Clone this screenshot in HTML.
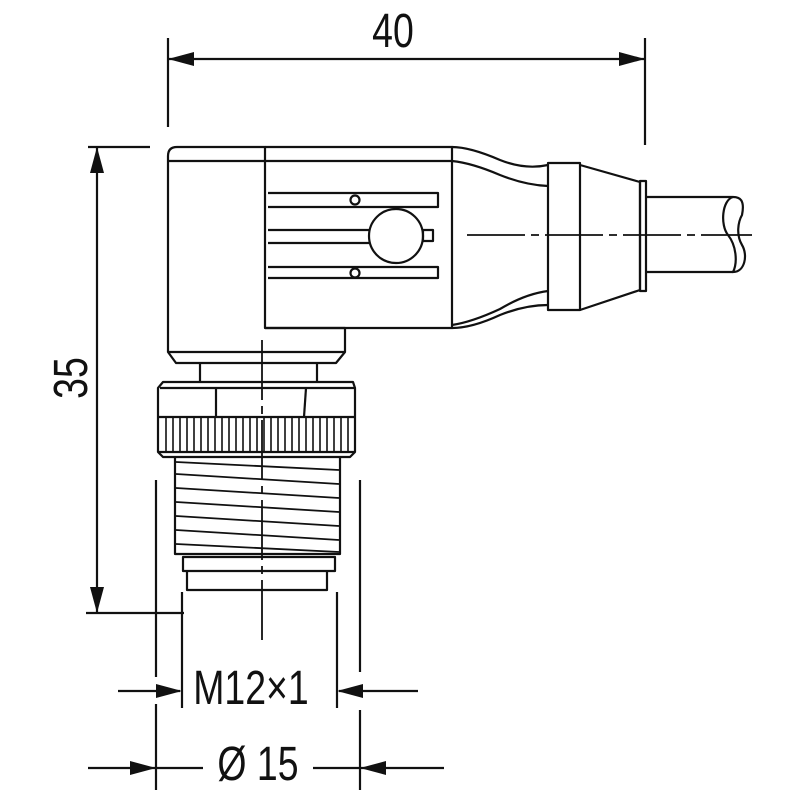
<!DOCTYPE html>
<html><head><style>html,body{margin:0;padding:0;background:#fff}svg{display:block}</style></head><body>
<svg width="800" height="800" viewBox="0 0 800 800" xmlns="http://www.w3.org/2000/svg">
<g stroke="#111" stroke-width="2.2" fill="none" stroke-linejoin="round">
<line x1="168" y1="38" x2="168" y2="127"/>
<line x1="645" y1="38" x2="645" y2="145"/>
<path d="M168,59 L645,59"/>
<line x1="88" y1="147" x2="150" y2="147"/>
<line x1="86" y1="613" x2="184" y2="613"/>
<line x1="97" y1="147" x2="97" y2="613"/>
<line x1="182" y1="592" x2="182" y2="708"/>
<line x1="337" y1="592" x2="337" y2="708"/>
<line x1="118" y1="691" x2="180" y2="691"/>
<line x1="418" y1="691" x2="339" y2="691"/>
<line x1="156" y1="480" x2="156" y2="677"/>
<line x1="156" y1="704" x2="156" y2="790"/>
<line x1="360" y1="480" x2="360" y2="672"/>
<line x1="360" y1="710" x2="360" y2="790"/>
<line x1="88" y1="768" x2="203" y2="768"/>
<line x1="313" y1="768" x2="444" y2="768"/>
<path d="M177,147 L265,147 L265,328 L345,328 L345,352 L336,363 L176,363 L168,352 L168,156 Q168,147 177,147 Z"/>
<line x1="168" y1="161" x2="452" y2="161"/>
<line x1="168" y1="352" x2="345" y2="352"/>
<path d="M265,147 L452,147 L452,328 L265,328"/>
<path d="M268,193 L438,193 L438,207 L268,207"/>
<path d="M268,230 L369,230 M268,243 L369,243"/>
<path d="M268,267 L438,267 L438,278 L268,278"/>
<circle cx="396" cy="236" r="27" fill="#fff"/>
<circle cx="355" cy="200" r="4.5" fill="#fff"/>
<circle cx="355" cy="273" r="4.5" fill="#fff"/>
<rect x="423" y="230" width="10" height="11"/>
<path d="M452,147 Q470,147 500,160 Q525,170 548,165"/>
<path d="M452,161 Q472,163 500,175 Q525,185 548,186"/>
<path d="M452,328 Q472,328 500,315 Q525,305 548,305"/>
<path d="M452,325 Q472,322 500,309 Q525,294 548,291"/>
<rect x="548" y="163" width="32" height="147"/>
<path d="M580,165 L640,182 L640,290 L580,310"/>
<rect x="640" y="181" width="6" height="110"/>
<path d="M646,197 L733,197 M646,272 L733,272"/>
<path d="M733,197 C722,200 720,225 728,235 C736,245 738,262 733,272 C745,272 748,255 742,245 C736,235 738,222 742,215 C745,200 740,197 733,197"/>
<line x1="467" y1="235" x2="752" y2="235" stroke-width="1.8" stroke-dasharray="58,6,8,6"/>
<line x1="262" y1="340" x2="262" y2="640" stroke-width="1.8" stroke-dasharray="60,6,8,6"/>
<line x1="200" y1="363" x2="200" y2="382"/>
<line x1="317" y1="363" x2="317" y2="382"/>
<path d="M163,382 L353,382 L355,388 L355,452 L350,457 L163,457 L158,452 L158,388 Z"/>
<line x1="160" y1="388" x2="355" y2="388"/>
<line x1="158" y1="417" x2="355" y2="417"/>
<line x1="158" y1="452" x2="355" y2="452"/>
<line x1="216" y1="388" x2="216" y2="417"/>
<line x1="306" y1="388" x2="304" y2="417"/>
<g stroke-width="1.6">
<path d="M166,418V452M173,418V452M180,418V452M187,418V452M194,418V452M201,418V452M208,418V452M215,418V452M222,418V452M229,418V452M236,418V452M243,418V452M250,418V452M257,418V452M264,418V452M271,418V452M278,418V452M285,418V452M292,418V452M299,418V452M306,418V452M313,418V452M320,418V452M327,418V452M334,418V452M341,418V452M348,418V452"/>
</g>
<path d="M175,457 L175,554 L340,554 L340,457"/>
<g stroke-width="1.8">
<path d="M176,462 L339,470 M176,474 L339,484 M176,488 L339,498 M176,502 L339,512 M176,516 L339,526 M176,530 L339,540 M176,544 L339,552"/>
</g>
<path d="M183,557 L335,557 L335,571 L183,571 Z"/>
<path d="M187,571 L187,590 L327,590 L327,571"/>
</g>
<g fill="#111" stroke="none">
<path d="M168,59 l26,-7 l0,14 z"/>
<path d="M645,59 l-26,-7 l0,14 z"/>
<path d="M97,147 l-7,26 l14,0 z"/>
<path d="M97,613 l-7,-26 l14,0 z"/>
<path d="M182,691 l-26,-7 l0,14 z"/>
<path d="M337,691 l26,-7 l0,14 z"/>
<path d="M156,768 l-26,-7 l0,14 z"/>
<path d="M360,768 l26,-7 l0,14 z"/>
</g>
<g font-family="Liberation Sans, sans-serif" fill="#111" font-size="48">
<text x="393" y="47" text-anchor="middle" transform="translate(393,0) scale(0.78,1) translate(-393,0)">40</text>
<text x="0" y="0" text-anchor="middle" transform="translate(87,378) rotate(-90) scale(0.78,1)">35</text>
<text x="251" y="704" text-anchor="middle" transform="translate(251,0) scale(0.78,1) translate(-251,0)">M12×1</text>
<text x="258" y="780" text-anchor="middle" transform="translate(258,0) scale(0.78,1) translate(-258,0)">Ø 15</text>
</g>
</svg>
</body></html>
